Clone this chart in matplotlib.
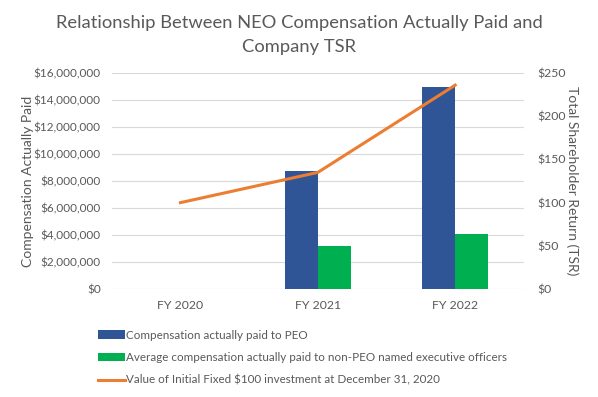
import matplotlib
matplotlib.use("Agg")
import matplotlib.pyplot as plt
import numpy as np
from matplotlib.ticker import FuncFormatter, MultipleLocator

categories = ["FY 2020", "FY 2021", "FY 2022"]
peo_cap = [0, 8750000, 14950000]
neo_cap = [0, 3150000, 4080000]
tsr = [100, 135, 236]

plt.rcParams['font.family'] = ['Lato', 'DejaVu Sans']
gray = '#595959'

fig = plt.figure(figsize=(5.98, 3.97), dpi=100)
ax = fig.add_axes([0.187, 0.272, 0.689, 0.544])
ax2 = ax.twinx()

x = np.arange(len(categories))
w = 0.24
b1 = ax.bar(x[1:] - w/2, peo_cap[1:], w, color='#2F5597', label='Compensation actually paid to PEO', zorder=3)
b2 = ax.bar(x[1:] + w/2, neo_cap[1:], w, color='#00B050', label='Average compensation actually paid to non-PEO named executive officers', zorder=3)
l1, = ax2.plot(x, tsr, color='#ED7D31', lw=2.2, label='Value of Initial Fixed $100 investment at December 31, 2020', zorder=4)

ax.set_xlim(-0.5, 2.5)
ax.set_ylim(0, 16000000)
ax2.set_ylim(0, 250)
ax.yaxis.set_major_locator(MultipleLocator(2000000))
ax2.yaxis.set_major_locator(MultipleLocator(50))
ax.yaxis.set_major_formatter(FuncFormatter(lambda v, p: f"${v:,.0f}"))
ax2.yaxis.set_major_formatter(FuncFormatter(lambda v, p: f"${v:,.0f}"))
ax.set_xticks(x)
ax.set_xticklabels(categories)
ax.grid(axis='y', color='#d9d9d9', lw=0.8, zorder=0)
for a in (ax, ax2):
    for s in ('top', 'left', 'right', 'bottom'):
        a.spines[s].set_visible(False)
    a.tick_params(length=0, colors=gray, labelsize=8.8)
ax.tick_params(axis='y', labelsize=8.5, pad=8)
ax2.tick_params(axis='y', pad=10)
ax.tick_params(axis='x', pad=8)
ax.set_ylabel('Compensation Actually Paid', color=gray, fontsize=10, labelpad=0)
ax2.set_ylabel('Total Shareholder Return (TSR)', color=gray, fontsize=10, rotation=270, labelpad=9)

fig.text(0.5, 0.962, 'Relationship Between NEO Compensation Actually Paid and\nCompany TSR',
         ha='center', va='top', fontsize=13.2, color=gray, linespacing=1.62)

leg = fig.legend(handles=[b1, b2, l1], loc='upper left', bbox_to_anchor=(0.164, 0.17),
                 frameon=False, fontsize=8.4, handlelength=2.3, handletextpad=0.1,
                 labelspacing=1.0, borderaxespad=0, borderpad=0)
for t in leg.get_texts():
    t.set_color(gray)

fig.savefig('out.png', dpi=100)
